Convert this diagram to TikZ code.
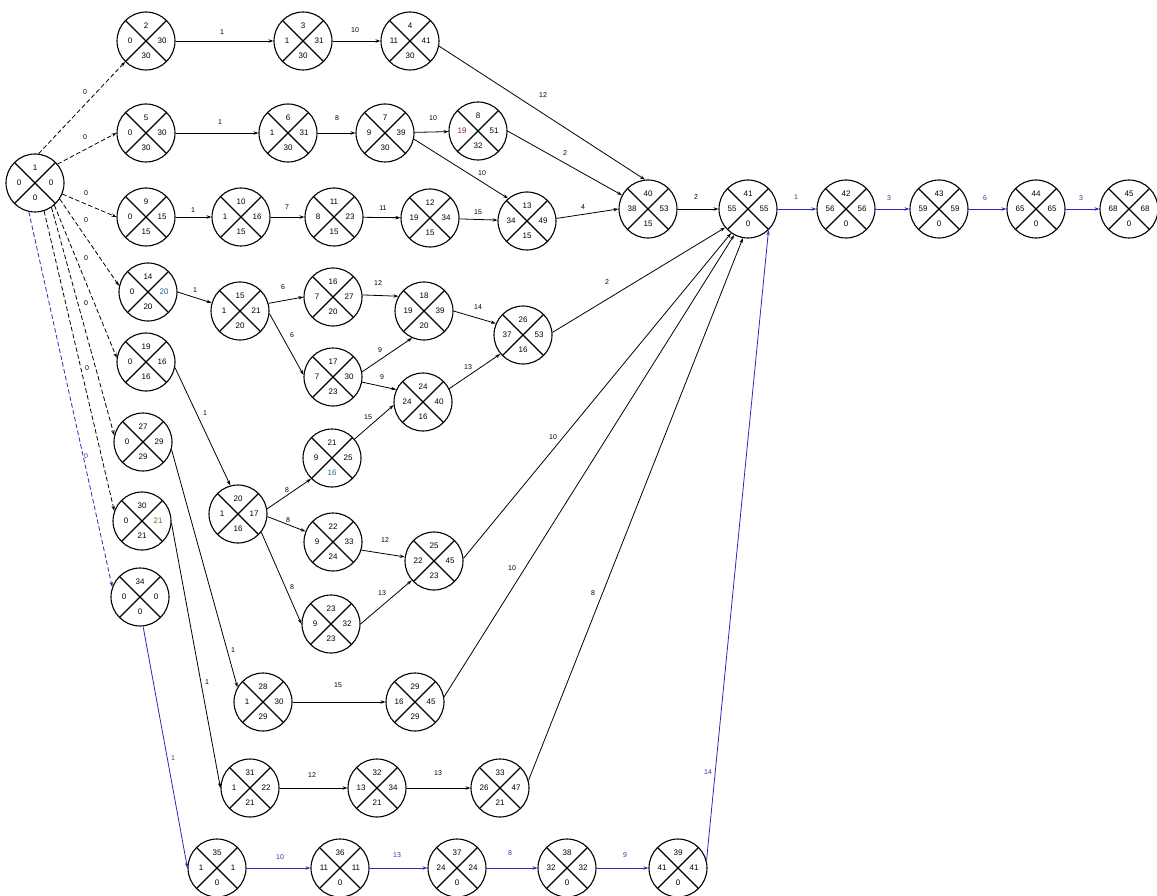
\documentclass[tikz,border=0pt]{standalone}
\usepackage{fontspec}
\setmainfont{Liberation Sans}
\usetikzlibrary{arrows.meta}
\definecolor{bluec}{HTML}{2A2AB8}
\definecolor{bluet}{HTML}{3535A5}
\definecolor{redt}{HTML}{8B2020}
\definecolor{tealt}{HTML}{2F5F80}
\definecolor{olivet}{HTML}{6E6E1E}
\newcommand{\ev}[7]{%
  \node[ev] (n#1) at (#2,#3) {};
  \node[num] (n#1t) at (#2,{#3-15}) {#4};
  \node[num] (n#1l) at ({#2-16},#3) {#5};
  \node[num] (n#1r) at ({#2+16},#3) {#6};
  \node[num] (n#1b) at (#2,{#3+15}) {#7};
}
\begin{document}
\begin{tikzpicture}[x=1pt,y=-1pt,
  ev/.style={circle, draw, line width=1.1pt, minimum size=58pt, inner sep=0pt,
    path picture={\draw[line width=1.1pt]
      (path picture bounding box.north west) -- (path picture bounding box.south east)
      (path picture bounding box.north east) -- (path picture bounding box.south west);}},
  num/.style={font=\fontsize{8}{9}\selectfont, inner sep=0pt},
  lbl/.style={font=\fontsize{7}{8}\selectfont, inner sep=0pt},
  blbl/.style={lbl, text=bluet},
  e/.style={line width=0.8pt, -{Stealth[length=5pt,width=3.4pt]}},
  bl/.style={e, draw=bluec},
  dsh/.style={e, dash pattern=on 4.5pt off 2.5pt}]
\useasboundingbox (0,0) rectangle (1157,896);
% events
\ev{1}{35}{183}{1}{0}{0}{0}
\ev{2}{146}{41}{2}{0}{30}{30}
\ev{3}{303}{41}{3}{1}{31}{30}
\ev{4}{410}{41}{4}{11}{41}{30}
\ev{5}{146}{133}{5}{0}{30}{30}
\ev{6}{288}{133}{6}{1}{31}{30}
\ev{7}{385}{133}{7}{9}{39}{30}
\ev{8}{478}{131}{8}{\color{redt}19}{51}{32}
\ev{9}{146}{217}{9}{0}{15}{15}
\ev{10}{241}{217}{10}{1}{16}{15}
\ev{11}{334}{217}{11}{8}{23}{15}
\ev{12}{430}{218}{12}{19}{34}{15}
\ev{13}{527}{221}{13}{34}{49}{15}
\ev{40}{648}{209}{40}{38}{53}{15}
\ev{41}{748}{209}{41}{55}{55}{0}
\ev{42}{846}{209}{42}{56}{56}{0}
\ev{43}{939}{209}{43}{59}{59}{0}
\ev{44}{1036}{209}{44}{65}{65}{0}
\ev{45}{1129}{209}{45}{68}{68}{0}
\ev{14}{148}{292}{14}{0}{\color{tealt}20}{20}
\ev{15}{240}{311}{15}{1}{21}{20}
\ev{16}{333}{297}{16}{7}{27}{20}
\ev{17}{333}{377}{17}{7}{30}{23}
\ev{18}{424}{311}{18}{19}{39}{20}
\ev{24}{423}{402}{24}{24}{40}{16}
\ev{26}{523}{335}{26}{37}{53}{16}
\ev{19}{146}{362}{19}{0}{16}{16}
\ev{20}{238}{514}{20}{1}{17}{16}
\ev{21}{332}{458}{21}{9}{25}{\color{tealt}16}
\ev{22}{333}{542}{22}{9}{33}{24}
\ev{23}{331}{624}{23}{9}{32}{23}
\ev{25}{434}{561}{25}{22}{45}{23}
\ev{27}{143}{442}{27}{0}{29}{29}
\ev{28}{263}{702}{28}{1}{30}{29}
\ev{29}{415}{702}{29}{16}{45}{29}
\ev{30}{142}{521}{30}{0}{\color{olivet}21}{21}
\ev{31}{250}{788}{31}{1}{22}{21}
\ev{32}{377}{788}{32}{13}{34}{21}
\ev{33}{500}{788}{33}{26}{47}{21}
\ev{34}{140}{597}{34}{0}{0}{0}
\ev{35}{217}{868}{35}{1}{1}{0}
\ev{36}{340}{868}{36}{11}{11}{0}
\ev{37}{457}{868}{37}{24}{24}{0}
\ev{38}{567}{868}{38}{32}{32}{0}
\ev{39}{678}{868}{39}{41}{41}{0}
% dummy arrows from event 1
\draw[dsh] (n1.83) -- (n2.225);
\draw[dsh] (n1.40) -- (n5.180);
\draw[dsh] (n1.-22) -- (n9.180);
\draw[dsh] (n1.-33) -- (n14.168);
\draw[dsh] (n1.-49) -- (n19.172);
\draw[dsh] (n1.-56) -- (n27.167);
\draw[dsh] (n1.-72) -- (n30.160);
\draw[dsh, draw=bluec] (n1.-102) -- (n34.160);
% rows
\draw[e] (n2) -- (n3);
\draw[e] (n3) -- (n4);
\draw[e] (n4.-10) -- (n40.96);
\draw[e] (n5) -- (n6);
\draw[e] (n6) -- (n7);
\draw[e] (n7) -- (n8);
\draw[e] (n7.-12) -- (n13.130);
\draw[e] (n8.0) -- (n40.152);
\draw[e] (n9) -- (n10);
\draw[e] (n10) -- (n11);
\draw[e] (n11) -- (n12);
\draw[e] (n12) -- (n13);
\draw[e] (n13.5) -- (n40.180);
\draw[e] (n40) -- (n41);
\draw[bl] (n41) -- (n42);
\draw[bl] (n42) -- (n43);
\draw[bl] (n43) -- (n44);
\draw[bl] (n44) -- (n45);
\draw[e] (n14.0) -- (n15.164);
\draw[e] (n15.15) -- (n16.180);
\draw[e] (n15.-5) -- (n17.176);
\draw[e] (n16.4) -- (n18.150);
\draw[e] (n17.10) -- (n18.246);
\draw[e] (n17.-10) -- (n24.155);
\draw[e] (n18.0) -- (n26.157);
\draw[e] (n24.27) -- (n26.220);
\draw[e] (n21.40) -- (n24.186);
\draw[e] (n26.5) -- (n41.219);
\draw[e] (n25.5) -- (n41.235);
\draw[e] (n29.10) -- (n41.242);
\draw[e] (n33.15) -- (n41.260);
\draw[bl] (n39.15) -- (n41.314);
\draw[e] (n19.-11) -- (n20.105);
\draw[e] (n20.10) -- (n21.225);
\draw[e] (n20.-5) -- (n22.159);
\draw[e] (n20.-38) -- (n23.180);
\draw[e] (n22.-16) -- (n25.172);
\draw[e] (n23.0) -- (n25.221);
\draw[e] (n27.-15) -- (n28.150);
\draw[e] (n30.-4) -- (n31.180);
\draw[e] (n28) -- (n29);
\draw[e] (n31) -- (n32);
\draw[e] (n32) -- (n33);
\draw[bl] (n34.-84) -- (n35.180);
\draw[bl] (n35) -- (n36);
\draw[bl] (n36) -- (n37);
\draw[bl] (n37) -- (n38);
\draw[bl] (n38) -- (n39);
% labels
\node[lbl] (a1) at (85,92) {0};
\node[lbl] (a2) at (85,137) {0};
\node[lbl] (a3) at (86,193) {0};
\node[lbl] (a4) at (86,220) {0};
\node[lbl] (a5) at (86,258) {0};
\node[lbl] (a6) at (86,303) {0};
\node[lbl] (a7) at (87,368) {0};
\node[blbl] (a8) at (86,456) {0};
\node[lbl] (b1) at (222,32) {1};
\node[lbl] (b2) at (355,30) {10};
\node[lbl] (b3) at (543,95) {12};
\node[lbl] (b4) at (220,122) {1};
\node[lbl] (b5) at (337,118) {8};
\node[lbl] (b6) at (433,118) {10};
\node[lbl] (b7) at (482,173) {10};
\node[lbl] (b8) at (565,153) {2};
\node[lbl] (c1) at (193,210) {1};
\node[lbl] (c2) at (287,207) {7};
\node[lbl] (c3) at (383,208) {11};
\node[lbl] (c4) at (478,212) {15};
\node[lbl] (c5) at (583,207) {4};
\node[lbl] (c6) at (696,197) {2};
\node[blbl] (c7) at (796,197) {1};
\node[blbl] (c8) at (889,198) {3};
\node[blbl] (c9) at (985,198) {6};
\node[blbl] (c10) at (1081,198) {3};
\node[lbl] (d1) at (195,290) {1};
\node[lbl] (d2) at (283,287) {6};
\node[lbl] (d3) at (292,335) {6};
\node[lbl] (d4) at (378,283) {12};
\node[lbl] (d5) at (380,350) {9};
\node[lbl] (d6) at (382,377) {9};
\node[lbl] (d7) at (478,307) {14};
\node[lbl] (d8) at (468,367) {13};
\node[lbl] (d9) at (368,417) {15};
\node[lbl] (d10) at (607,282) {2};
\node[lbl] (d11) at (553,437) {10};
\node[lbl] (d12) at (512,568) {10};
\node[lbl] (d13) at (593,593) {8};
\node[blbl] (d14) at (708,772) {14};
\node[lbl] (f1) at (205,413) {1};
\node[lbl] (f2) at (287,490) {8};
\node[lbl] (f3) at (288,520) {8};
\node[lbl] (f4) at (292,587) {8};
\node[lbl] (f5) at (385,540) {12};
\node[lbl] (f6) at (382,593) {13};
\node[lbl] (g1) at (233,650) {1};
\node[lbl] (g2) at (207,682) {1};
\node[lbl] (g3) at (338,685) {15};
\node[lbl] (g4) at (312,775) {12};
\node[lbl] (g5) at (438,773) {13};
\node[blbl] (h1) at (173,758) {1};
\node[blbl] (h2) at (280,857) {10};
\node[blbl] (h3) at (397,855) {13};
\node[blbl] (h4) at (510,853) {8};
\node[blbl] (h5) at (625,855) {9};
\end{tikzpicture}
\end{document}
